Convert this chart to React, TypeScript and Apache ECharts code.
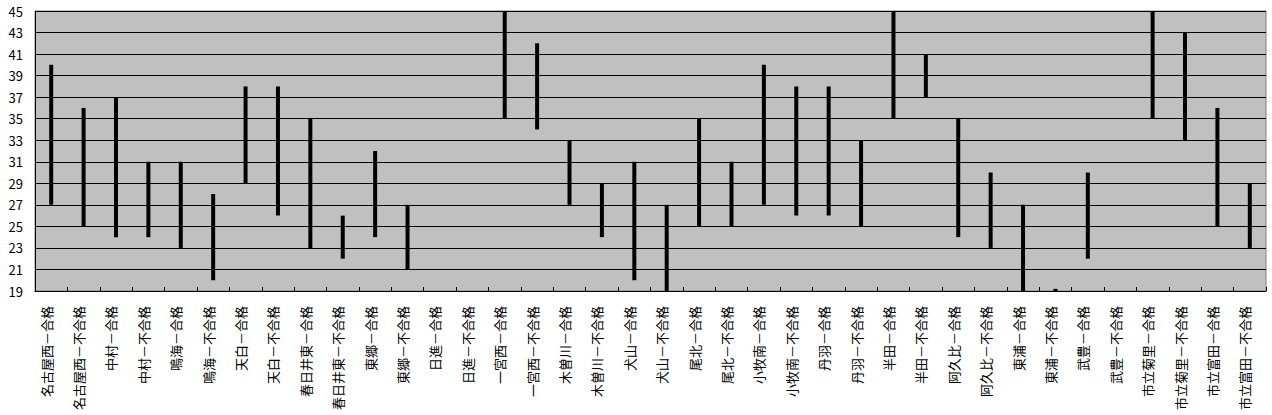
import React, { useEffect, useRef } from "react";
import * as echarts from "echarts";

const categories = [
  "名古屋西－合格", "名古屋西－不合格", "中村－合格", "中村－不合格", "鳴海－合格", "鳴海－不合格",
  "天白－合格", "天白－不合格", "春日井東－合格", "春日井東－不合格", "東郷－合格", "東郷－不合格",
  "日進－合格", "日進－不合格", "一宮西－合格", "一宮西－不合格", "木曽川－合格", "木曽川－不合格",
  "犬山－合格", "犬山－不合格", "尾北－合格", "尾北－不合格", "小牧南－合格", "小牧南－不合格",
  "丹羽－合格", "丹羽－不合格", "半田－合格", "半田－不合格", "阿久比－合格", "阿久比－不合格",
  "東浦－合格", "東浦－不合格", "武豊－合格", "武豊－不合格", "市立菊里－合格", "市立菊里－不合格",
  "市立富田－合格", "市立富田－不合格",
];

const lowValues: (number | null)[] = [
  27, 25, 24, 24, 23, 20, 29, 26, 23, 22, 24, 21,
  null, null, 35, 34, 27, 24, 20, 19, 25, 25, 27, 26,
  26, 25, 35, 37, 24, 23, 19, 19, 22, null, 35, 33,
  25, 23,
];

const highValues: (number | null)[] = [
  40, 36, 37, 31, 31, 28, 38, 38, 35, 26, 32, 27,
  null, null, 45, 42, 33, 29, 31, 27, 35, 31, 40, 38,
  38, 33, 45, 41, 35, 30, 27, 19.2, 30, null, 45, 43,
  36, 29,
];

const yMin = 19;
const yMax = 45;
const yStep = 2;

export default function App() {
  const ref = useRef<HTMLDivElement>(null);
  useEffect(() => {
    if (!ref.current) return;
    const chart = echarts.init(ref.current, undefined, { renderer: "svg" });
    const spans = highValues.map((h, i) => {
      const l = lowValues[i];
      return h == null || l == null ? null : +(h - l).toFixed(3);
    });
    chart.setOption({
      animation: false,
      grid: {
        left: 35,
        right: 6,
        top: 11,
        bottom: 124,
        show: true,
        backgroundColor: "#c0c0c0",
        borderColor: "#808080",
        borderWidth: 1,
      },
      xAxis: {
        type: "category",
        data: categories,
        boundaryGap: true,
        axisLine: { show: true, lineStyle: { color: "#000", width: 1 } },
        axisTick: { show: true, inside: true, length: 4, lineStyle: { color: "#000" } },
        axisLabel: {
          interval: 0,
          rotate: 90,
          margin: 15,
          color: "#000",
          fontSize: 13,
          lineHeight: 10,
          verticalAlign: "bottom",
          fontFamily: "Noto Sans CJK JP",
        },
      },
      yAxis: {
        type: "value",
        min: yMin,
        max: yMax,
        interval: yStep,
        axisLine: { show: true, lineStyle: { color: "#000", width: 1 } },
        axisTick: { show: false },
        splitLine: { show: true, lineStyle: { color: "#000", width: 1 } },
        axisLabel: {
          color: "#000",
          fontSize: 13,
          margin: 12,
          fontFamily: "Noto Sans CJK JP",
        },
      },
      series: [
        {
          type: "bar",
          stack: "range",
          data: lowValues,
          barWidth: 4,
          itemStyle: { color: "transparent" },
          silent: true,
        },
        {
          type: "bar",
          stack: "range",
          data: spans,
          barWidth: 4,
          itemStyle: { color: "#000" },
        },
      ],
    });
    return () => chart.dispose();
  }, []);
  return (
    <div
      ref={ref}
      style={{ position: "absolute", left: 0, top: 0, width: 1272, height: 415, background: "#fff" }}
    />
  );
}
